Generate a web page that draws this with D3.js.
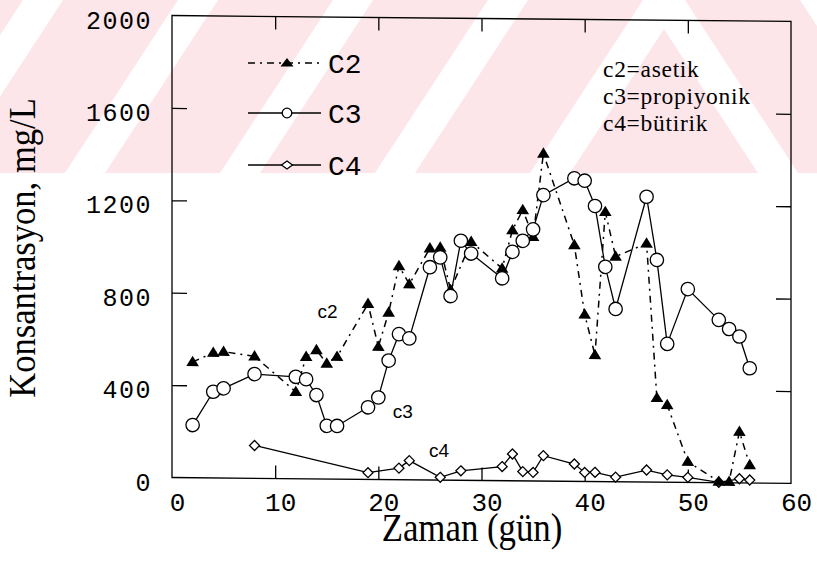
<!DOCTYPE html>
<html>
<head>
<meta charset="utf-8">
<script src="https://cdn.jsdelivr.net/npm/d3@7"></script>
<style>
  body { margin: 0; background: #fff; }
  svg { display: block; }
</style>
</head>
<body>
<svg id="chart" width="817" height="578"></svg>
<script>
// ---- data: concentration (mg/L) against time (days) ----
const c2Days   = [2, 4, 5, 8, 12, 13, 14, 15, 16, 19, 20, 21, 22, 23, 25, 26, 27, 29, 32, 33, 34, 35, 36, 39, 40, 41, 42, 43, 46, 47, 48, 50, 53, 54, 55, 56];
const c2Values = [501, 542, 547, 528, 376, 528, 558, 500, 530, 760, 575, 723, 925, 847, 1003, 1007, 824, 1033, 919, 1085, 1173, 1057, 1418, 1023, 723, 548, 1168, 975, 1033, 365, 335, 90, 5, 5, 222, 78];

const c3Days   = [2, 4, 5, 8, 12, 13, 14, 15, 16, 19, 20, 21, 22, 23, 25, 26, 27, 28, 29, 32, 33, 34, 35, 36, 39, 40, 41, 42, 43, 46, 47, 48, 50, 53, 54, 55, 56];
const c3Values = [228, 373, 388, 451, 441, 431, 363, 230, 230, 312, 355, 515, 630, 612, 921, 964, 797, 1037, 982, 876, 991, 1039, 1089, 1238, 1312, 1302, 1193, 930, 748, 1235, 962, 599, 837, 705, 666, 634, 497];

const c4Days   = [8, 19, 22, 23, 26, 28, 32, 33, 34, 35, 36, 39, 40, 41, 43, 46, 48, 50, 53, 55, 56];
const c4Values = [142, 29, 50, 83, 12, 41, 61, 116, 40, 37, 110, 75, 39, 40, 20, 52, 32, 22, 2, 18, 13];

const xTickValues = [0, 10, 20, 30, 40, 50, 60];
const yTickValues = [0, 400, 800, 1200, 1600, 2000];
const legendNames = ["C2", "C3", "C4"];
const acidNotes   = ["c2=asetik", "c3=propiyonik", "c4=bütirik"];
const seriesTags  = ["c2", "c3", "c4"];

// ---- layout ----
const svg = d3.select("#chart");
const plotLeft = 172, plotRight = 791, plotTop = 15.5, plotBottom = 477.5;
const x = d3.scaleLinear().domain([0, 60]).range([plotLeft, plotRight]);
const y = d3.scaleLinear().domain([0, 2000]).range([plotBottom, plotTop]);

const monoFont = "'Liberation Mono', 'Courier New', monospace";
const serifFont = "'Liberation Serif', 'Times New Roman', serif";
const sansFont = "'Liberation Sans', Arial, sans-serif";

// ---- faint striped band across the top of the page ----
const defs = svg.append("defs");
const bandH = 173, mirrorX = 664;
defs.append("clipPath").attr("id", "bandLeft")
  .append("rect").attr("x", 0).attr("y", 0).attr("width", mirrorX).attr("height", bandH);
defs.append("clipPath").attr("id", "bandRight")
  .append("rect").attr("x", mirrorX).attr("y", 0).attr("width", 817 - mirrorX).attr("height", bandH);

svg.append("rect").attr("x", 0).attr("y", 0).attr("width", 817).attr("height", bandH)
  .attr("fill", "#fde6ea");

const gapStarts = d3.range(-90, 700, 155);
const gapW = 40, lean = 113;
function gapPath(a) {
  return `M${a},${bandH}L${a + gapW},${bandH}L${a + gapW + lean},0L${a + lean},0Z`;
}
svg.append("g").attr("clip-path", "url(#bandLeft)")
  .selectAll("path").data(gapStarts).join("path")
  .attr("d", gapPath).attr("fill", "#fff");
svg.append("g").attr("clip-path", "url(#bandRight)")
  .append("g").attr("transform", `translate(${2 * mirrorX},0) scale(-1,1)`)
  .selectAll("path").data(gapStarts).join("path")
  .attr("d", gapPath).attr("fill", "#fff");

// ---- plot area (the frame sits with a slight downward lean to the right) ----
const plot = svg.append("g")
  .attr("transform", `translate(${plotLeft},0) skewY(0.55) translate(${-plotLeft},0)`);

plot.append("rect")
  .attr("x", x(0)).attr("y", y(2000))
  .attr("width", x(60) - x(0)).attr("height", y(0) - y(2000))
  .attr("fill", "none").attr("stroke", "#000").attr("stroke-width", 1.3);

const innerX = xTickValues.slice(1, -1);
const innerY = yTickValues.slice(1, -1);
function tickStyle(g) {
  g.select(".domain").remove();
  g.selectAll(".tick line").attr("stroke", "#000").attr("stroke-width", 1.3);
  g.selectAll(".tick text").remove();
}
plot.append("g").attr("transform", `translate(0,${y(0)})`)
  .call(d3.axisBottom(x).tickValues(innerX).tickSize(-13)).call(tickStyle);
plot.append("g").attr("transform", `translate(0,${y(2000)})`)
  .call(d3.axisTop(x).tickValues(innerX).tickSize(-13)).call(tickStyle);
plot.append("g").attr("transform", `translate(${x(0)},0)`)
  .call(d3.axisLeft(y).tickValues(innerY).tickSize(-15)).call(tickStyle);
plot.append("g").attr("transform", `translate(${x(60)},0)`)
  .call(d3.axisRight(y).tickValues(innerY).tickSize(-15)).call(tickStyle);

// ---- series ----
const c2 = c2Days.map((d, i) => [d, c2Values[i]]);
const c3 = c3Days.map((d, i) => [d, c3Values[i]]);
const c4 = c4Days.map((d, i) => [d, c4Values[i]]);
const line = d3.line().x(d => x(d[0])).y(d => y(d[1]));

const triPath = "M0,-6.2L6.3,4.2L-6.3,4.2Z";
const diamondPath = "M0,-5L5,0L0,5L-5,0Z";

// C4: open diamonds, solid line
plot.append("path").datum(c4).attr("d", line)
  .attr("fill", "none").attr("stroke", "#000").attr("stroke-width", 1.3);
plot.append("g").selectAll("path").data(c4).join("path")
  .attr("transform", d => `translate(${x(d[0])},${y(d[1])})`)
  .attr("d", diamondPath)
  .attr("fill", "#fff").attr("stroke", "#000").attr("stroke-width", 1.3);

// C2: filled triangles, dash-dot line
plot.append("path").datum(c2).attr("d", line)
  .attr("fill", "none").attr("stroke", "#000").attr("stroke-width", 1.5)
  .attr("stroke-dasharray", "7,5,2,5");
plot.append("g").selectAll("path").data(c2).join("path")
  .attr("transform", d => `translate(${x(d[0])},${y(d[1])})`)
  .attr("d", triPath).attr("fill", "#000");

// C3: open circles, solid line
plot.append("path").datum(c3).attr("d", line)
  .attr("fill", "none").attr("stroke", "#000").attr("stroke-width", 1.3);
plot.append("g").selectAll("circle").data(c3).join("circle")
  .attr("cx", d => x(d[0])).attr("cy", d => y(d[1])).attr("r", 6.7)
  .attr("fill", "#fff").attr("stroke", "#000").attr("stroke-width", 1.3);

// ---- tick labels ----
const yLab = svg.append("g").attr("transform", `translate(${plotLeft - 20},0)`)
  .call(d3.axisLeft(y).tickValues(yTickValues).tickSize(0).tickFormat(d3.format("d")));
yLab.select(".domain").remove();
yLab.selectAll("text")
  .attr("x", 0).attr("dy", "0.5em")
  .attr("font-family", monoFont).attr("font-size", 25)
  .attr("letter-spacing", 1.5).attr("fill", "#000");

const xLab = svg.append("g").attr("transform", `translate(0,${plotBottom})`)
  .call(d3.axisBottom(x).tickValues(xTickValues).tickSize(0).tickFormat(d3.format("d")));
xLab.select(".domain").remove();
xLab.selectAll("text")
  .attr("y", 33).attr("dy", 0).attr("dx", 5)
  .attr("font-family", monoFont).attr("font-size", 26)
  .attr("letter-spacing", 0).attr("fill", "#000");

// ---- axis titles (tall, narrow serif lettering) ----
svg.append("text")
  .attr("transform", "translate(35,248) rotate(-90) scale(0.91,1)")
  .attr("text-anchor", "middle")
  .attr("font-family", serifFont).attr("font-size", 38).attr("fill", "#000")
  .text("Konsantrasyon, mg/L");
svg.append("text")
  .attr("transform", "translate(472,541) scale(0.87,1)")
  .attr("text-anchor", "middle")
  .attr("font-family", serifFont).attr("font-size", 40).attr("fill", "#000")
  .text("Zaman (gün)");

// ---- legend ----
const legendRows = [63, 113, 165];
const lg = svg.append("g");
const lx0 = 248, lx1 = 321, lm = 287;
legendNames.forEach((name, i) => {
  const ly = legendRows[i];
  const row = lg.append("g");
  const seg = row.append("line")
    .attr("x1", lx0).attr("x2", lx1).attr("y1", ly).attr("y2", ly)
    .attr("stroke", "#000").attr("stroke-width", i === 0 ? 1.5 : 1.3);
  if (i === 0) {
    seg.attr("stroke-dasharray", "7,5,2,5");
    row.append("path").attr("transform", `translate(${lm},${ly})`)
      .attr("d", "M0,-5L6.5,3.5L-6.5,3.5Z").attr("fill", "#000");
  } else if (i === 1) {
    row.append("circle").attr("cx", lm).attr("cy", ly).attr("r", 4.8)
      .attr("fill", "#fff").attr("stroke", "#000").attr("stroke-width", 1.3);
  } else {
    row.append("path").attr("transform", `translate(${lm},${ly})`)
      .attr("d", "M0,-4L5.5,0L0,4L-5.5,0Z")
      .attr("fill", "#fff").attr("stroke", "#000").attr("stroke-width", 1.3);
  }
  row.append("text").attr("x", lx1 + 7).attr("y", ly).attr("dy", "0.36em")
    .attr("font-family", monoFont).attr("font-size", 28).attr("fill", "#000")
    .text(name);
});

// ---- acid key ----
svg.append("g").selectAll("text").data(acidNotes).join("text")
  .attr("x", 603).attr("y", (d, i) => 77 + i * 27)
  .attr("font-family", serifFont).attr("font-size", 23.5)
  .attr("letter-spacing", 0.7).attr("fill", "#000")
  .text(d => d);

// ---- series tags next to the curves ----
const tagSpots = [[14.1, 690], [21.4, 258], [24.9, 90]];
svg.append("g").selectAll("text").data(seriesTags).join("text")
  .attr("x", (d, i) => x(tagSpots[i][0]))
  .attr("y", (d, i) => y(tagSpots[i][1]))
  .attr("font-family", sansFont).attr("font-size", 19).attr("fill", "#000")
  .text(d => d);
</script>
</body>
</html>
